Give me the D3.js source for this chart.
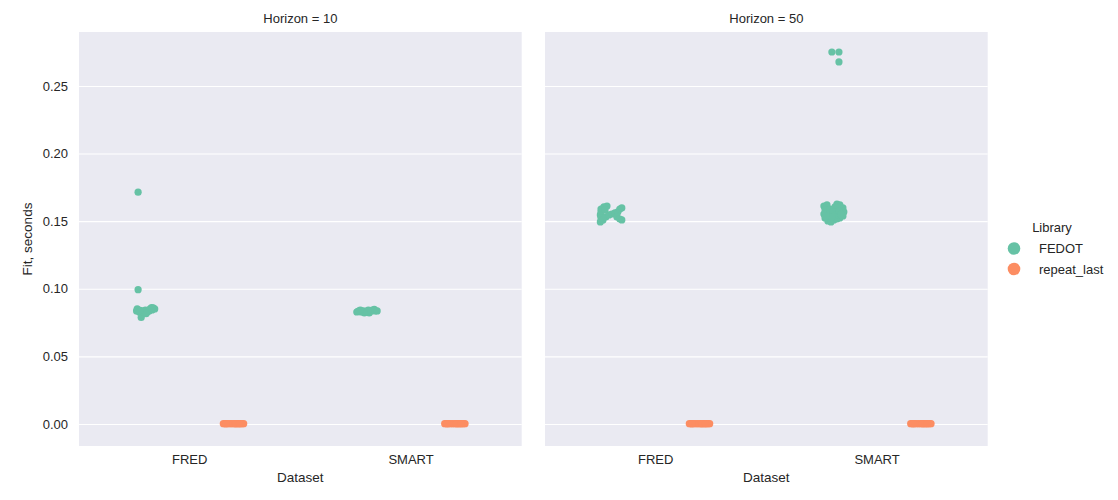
<!DOCTYPE html>
<html>
<head>
<meta charset="utf-8">
<script src="https://cdn.jsdelivr.net/npm/d3@7"></script>
<style>
  body { margin: 0; background: #fff; }
  svg text { font-family: "Liberation Sans", Arial, sans-serif; fill: #262626; }
</style>
</head>
<body>
<svg id="chart" width="1118" height="500"></svg>
<script>

// facets, categories, hues
const horizons = [ 10, 50 ];
const datasets = [ "FRED", "SMART" ];
const libraries = [ "FEDOT", "repeat_last" ];
const libColors = [ "#66c2a5", "#fc8d62" ];
const yTicks = [ 0, 0.05, 0.10, 0.15, 0.20, 0.25 ];

// [fit seconds, strip jitter in category units]
const fedotH10Fred = [
  [ 0.1714, -0.033 ], [ 0.0993, -0.033 ],
  [ 0.0836, -0.040 ], [ 0.0851, -0.037 ], [ 0.0828, -0.028 ], [ 0.0788, -0.019 ],
  [ 0.0836, -0.010 ], [ 0.0843, 0.000 ], [ 0.0828, 0.008 ], [ 0.0836, 0.017 ],
  [ 0.0851, 0.021 ], [ 0.0843, 0.030 ], [ 0.0858, 0.035 ], [ 0.0851, 0.042 ],
  [ 0.0821, -0.006 ], [ 0.0816, 0.003 ], [ 0.0860, 0.028 ], [ 0.0840, -0.024 ]
];
const fedotH10Smart = [
  [ 0.0828, -0.045 ], [ 0.0836, -0.034 ], [ 0.0828, -0.025 ], [ 0.0836, -0.016 ],
  [ 0.0828, -0.007 ], [ 0.0836, 0.002 ], [ 0.0821, 0.011 ], [ 0.0836, 0.020 ],
  [ 0.0843, 0.025 ], [ 0.0847, 0.034 ], [ 0.0836, 0.038 ], [ 0.0836, 0.047 ],
  [ 0.0843, 0.007 ], [ 0.0821, -0.011 ], [ 0.0843, -0.029 ], [ 0.0832, -0.040 ]
];
const fedotH50Fred = [
  [ 0.1605, -0.034 ], [ 0.1590, -0.047 ], [ 0.1612, -0.020 ], [ 0.1568, -0.047 ],
  [ 0.1546, -0.050 ], [ 0.1524, -0.047 ], [ 0.1494, -0.050 ], [ 0.1509, -0.038 ],
  [ 0.1531, -0.025 ], [ 0.1546, -0.011 ], [ 0.1553, 0.002 ], [ 0.1561, 0.016 ],
  [ 0.1568, 0.029 ], [ 0.1590, 0.038 ], [ 0.1598, 0.047 ], [ 0.1531, 0.025 ],
  [ 0.1516, 0.038 ], [ 0.1509, 0.047 ], [ 0.1583, -0.029 ]
];
const fedotH50Smart = [
  [ 0.2751, -0.004 ], [ 0.2751, 0.028 ], [ 0.2678, 0.028 ],
  [ 0.1612, -0.040 ], [ 0.1620, -0.026 ], [ 0.1583, -0.035 ], [ 0.1553, -0.040 ],
  [ 0.1524, -0.035 ], [ 0.1501, -0.022 ], [ 0.1494, -0.008 ], [ 0.1509, 0.005 ],
  [ 0.1516, 0.019 ], [ 0.1524, 0.032 ], [ 0.1538, 0.046 ], [ 0.1568, 0.050 ],
  [ 0.1598, 0.046 ], [ 0.1620, 0.032 ], [ 0.1627, 0.019 ], [ 0.1605, 0.010 ],
  [ 0.1590, -0.013 ], [ 0.1553, -0.017 ], [ 0.1568, 0.001 ], [ 0.1546, 0.014 ],
  [ 0.1575, 0.028 ], [ 0.1531, -0.004 ], [ 0.1538, -0.031 ], [ 0.1553, 0.037 ]
];
const repeatLast = [
  [ 0.0002, -0.048 ], [ 0.0002, -0.040 ], [ 0.0002, -0.031 ], [ 0.0002, -0.022 ],
  [ 0.0002, -0.013 ], [ 0.0002, -0.005 ], [ 0.0002, 0.004 ], [ 0.0002, 0.012 ],
  [ 0.0002, 0.020 ], [ 0.0002, 0.029 ], [ 0.0002, 0.037 ], [ 0.0002, 0.044 ],
  [ 0.0002, -0.036 ], [ 0.0002, 0.008 ], [ 0.0002, 0.025 ]
];

const groups = [
  { horizon: 10, dataset: "FRED",  library: "FEDOT",       pts: fedotH10Fred },
  { horizon: 10, dataset: "SMART", library: "FEDOT",       pts: fedotH10Smart },
  { horizon: 50, dataset: "FRED",  library: "FEDOT",       pts: fedotH50Fred },
  { horizon: 50, dataset: "SMART", library: "FEDOT",       pts: fedotH50Smart },
  { horizon: 10, dataset: "FRED",  library: "repeat_last", pts: repeatLast },
  { horizon: 10, dataset: "SMART", library: "repeat_last", pts: repeatLast },
  { horizon: 50, dataset: "FRED",  library: "repeat_last", pts: repeatLast },
  { horizon: 50, dataset: "SMART", library: "repeat_last", pts: repeatLast }
];

const rows = [];
groups.forEach( g => g.pts.forEach( p => rows.push( {
  horizon: g.horizon, dataset: g.dataset, library: g.library, fit: p[ 0 ], jitter: p[ 1 ]
} ) ) );

const svg = d3.select( "#chart" );

const panelTop = 32, panelBottom = 446, panelW = 442.7;
const panelX = d3.scaleOrdinal().domain( horizons ).range( [ 79, 545 ] );

const y = d3.scaleLinear()
  .domain( [ -0.0163, 0.2899 ] )
  .range( [ panelBottom, panelTop ] );

const x = d3.scaleBand().domain( datasets ).range( [ 0, panelW ] ).paddingInner( 0 ).paddingOuter( 0 );
const dodge = d3.scaleBand().domain( libraries ).range( [ -0.4, 0.4 ] );
const color = d3.scaleOrdinal().domain( libraries ).range( libColors );

horizons.forEach( ( h, i ) => {

  const g = svg.append( "g" ).attr( "transform", "translate(" + panelX( h ) + ",0)" );

  g.append( "rect" )
    .attr( "x", 0 ).attr( "y", panelTop )
    .attr( "width", panelW ).attr( "height", panelBottom - panelTop )
    .attr( "fill", "#eaeaf2" );

  // horizontal grid (+ tick labels on the first panel)
  const yAxis = g.append( "g" )
    .call( d3.axisLeft( y ).tickValues( yTicks ).tickFormat( d3.format( ".2f" ) )
      .tickSize( -panelW ).tickPadding( 11 ) );
  yAxis.select( ".domain" ).remove();
  yAxis.selectAll( ".tick line" ).attr( "stroke", "#fff" ).attr( "stroke-width", 1.1 );
  yAxis.selectAll( ".tick text" )
    .style( "font-size", "13px" )
    .attr( "fill", "#262626" )
    .style( "display", i === 0 ? null : "none" );

  const xAxis = g.append( "g" )
    .attr( "transform", "translate(0," + panelBottom + ")" )
    .call( d3.axisBottom( x ).tickSize( 0 ).tickPadding( 9 ) );
  xAxis.select( ".domain" ).remove();
  xAxis.selectAll( ".tick text" ).style( "font-size", "13px" ).attr( "fill", "#262626" );

  g.append( "text" )
    .attr( "x", panelW / 2 ).attr( "y", 482 )
    .attr( "text-anchor", "middle" )
    .style( "font-size", "13.5px" )
    .text( "Dataset" );

  g.append( "text" )
    .attr( "x", panelW / 2 ).attr( "y", 23 )
    .attr( "text-anchor", "middle" )
    .style( "font-size", "13px" )
    .text( "Horizon = " + h );

  const bw = x.bandwidth();
  g.selectAll( "circle.pt" )
    .data( rows.filter( d => d.horizon === h ) )
    .enter().append( "circle" )
      .attr( "class", "pt" )
      .attr( "cx", d => x( d.dataset ) + bw / 2 + ( dodge( d.library ) + dodge.bandwidth() / 2 + d.jitter ) * bw )
      .attr( "cy", d => y( d.fit ) )
      .attr( "r", 3.6 )
      .attr( "fill", d => color( d.library ) );

} );

// y label
svg.append( "text" )
  .attr( "transform", "translate(32," + ( panelTop + panelBottom ) / 2 + ") rotate(-90)" )
  .attr( "text-anchor", "middle" )
  .style( "font-size", "13.5px" )
  .text( "Fit, seconds" );

// legend
const legend = svg.append( "g" ).attr( "transform", "translate(1014,0)" );
legend.append( "text" )
  .attr( "x", 38 ).attr( "y", 232 )
  .attr( "text-anchor", "middle" )
  .style( "font-size", "13px" )
  .text( "Library" );

const items = legend.selectAll( "g.item" )
  .data( libraries )
  .enter().append( "g" )
    .attr( "class", "item" )
    .attr( "transform", ( d, k ) => "translate(0," + ( 248.5 + k * 20.5 ) + ")" );

items.append( "circle" )
  .attr( "r", 6.3 )
  .attr( "fill", d => color( d ) );

items.append( "text" )
  .attr( "x", 25 ).attr( "y", 0 )
  .attr( "dy", "0.35em" )
  .style( "font-size", "13px" )
  .text( d => d );

</script>
</body>
</html>
